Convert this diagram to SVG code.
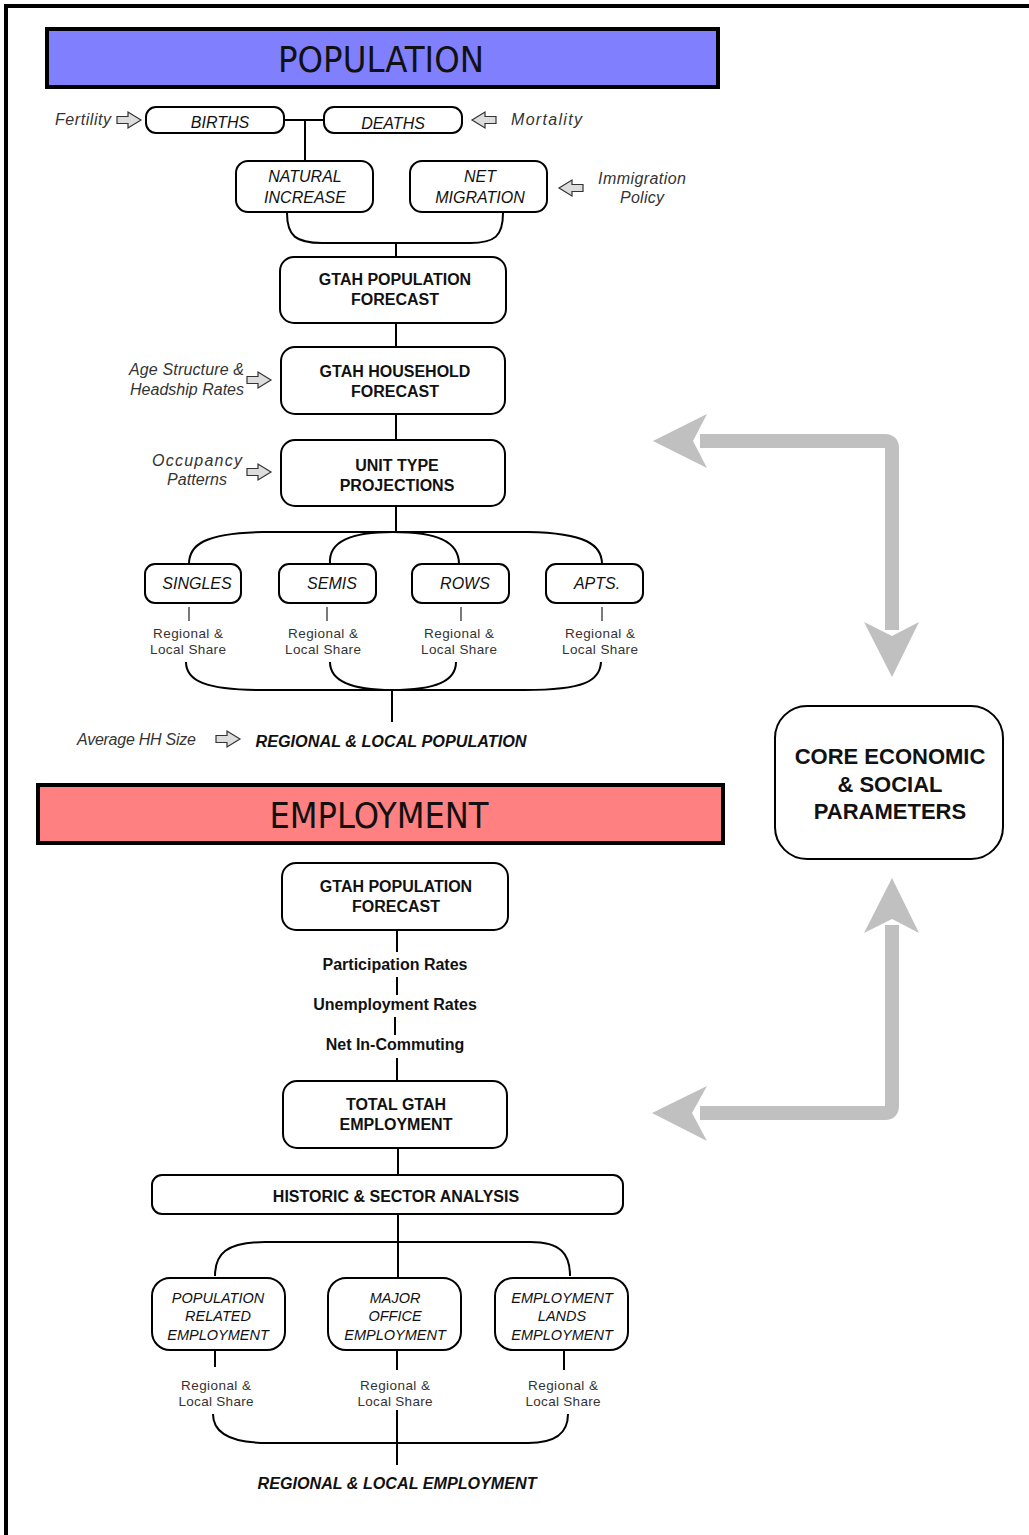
<svg xmlns="http://www.w3.org/2000/svg" xmlns:xlink="http://www.w3.org/1999/xlink" width="1029" height="1535" viewBox="0 0 1029 1535">
<style>
text{font-family:"Liberation Sans","DejaVu Sans",Arial,sans-serif;text-anchor:middle;fill:#111}
.hdr{font-family:"DejaVu Sans Condensed","DejaVu Sans",sans-serif;font-stretch:condensed;font-size:36px}
.nb{font-size:16px;font-weight:bold}
.ni{font-size:16px;font-style:italic}
.nis{font-size:14.5px;font-style:italic}
.lbl{font-size:16px;font-style:italic;fill:#333}
.rs{font-size:13.5px;fill:#333}
.out{font-size:16px;font-weight:bold;font-style:italic}
.core{font-size:22px;font-weight:bold}
.box{fill:#fff;stroke:#000;stroke-width:2}
.ln{fill:none;stroke:#000;stroke-width:2}
.tk{fill:none;stroke:#333;stroke-width:1.3}
.big{fill:none;stroke:#C0C0C0;stroke-width:14}
.bigh{fill:#C0C0C0}
</style>
<defs>
<path id="harr" d="M-12,-3.5 H-1 V-8 L12,0 L-1,8 V3.5 H-12 Z" fill="#ddd" stroke="#333" stroke-width="1.2"/>
</defs>
<rect width="1029" height="1535" fill="#fff"/>
<!-- page frame -->
<path d="M6,1535 V6 H1029" fill="none" stroke="#000" stroke-width="4"/>

<!-- headers -->
<g id="hdr-population">
<rect x="47" y="29" width="671" height="58" fill="#8080FF" stroke="#000" stroke-width="4"/>
<text class="hdr" x="381" y="72" textLength="206" lengthAdjust="spacingAndGlyphs">POPULATION</text>
</g>
<g id="hdr-employment">
<rect x="38" y="785" width="685" height="58" fill="#FF8080" stroke="#000" stroke-width="4"/>
<text class="hdr" x="379" y="828" textLength="219" lengthAdjust="spacingAndGlyphs">EMPLOYMENT</text>
</g>

<!-- connectors -->
<g id="connectors">
<path class="ln" d="M284,120 H324" stroke-width="3"/>
<path class="ln" d="M305,120 V161"/>
<path class="ln" d="M287,213 C287,236 296,243 322,243 H470 C495,243 503,236 503,213"/>
<path class="ln" d="M396,243 V257"/>
<path class="ln" d="M396,323 V347"/>
<path class="ln" d="M396,414 V440"/>
<path class="ln" d="M396,506 V532"/>
<path class="ln" d="M263,532 C204,533 189,545 189,564"/>
<path class="ln" d="M263,532 H528"/>
<path class="ln" d="M528,532 C586,533 602,545 602,564"/>
<path class="ln" d="M330,564 C328,541 352,532 393,532 C436,532 459,541 459,564"/>
<path class="tk" d="M189,607 V621 M327,607 V621 M461,607 V621 M602,607 V621"/>
<path class="ln" d="M186,662 C186,681 206,690 262,690 H525 C584,690 600,681 601,662"/>
<path class="ln" d="M330,662 C330,681 352,690 392,690 C436,690 456,681 456,662"/>
<path class="ln" d="M392,690 V722"/>
<path class="ln" d="M397,931 V952"/>
<path class="ln" d="M397,977 V995"/>
<path class="ln" d="M395,1017 V1035"/>
<path class="ln" d="M397,1058 V1081"/>
<path class="ln" d="M398,1148 V1175"/>
<path class="ln" d="M398,1214 V1278"/>
<path class="ln" d="M215,1276 C215,1254 226,1242 265,1242 H530 C561,1242 570,1254 570,1276"/>
<path class="ln" d="M215,1351 V1367 M397,1351 V1370 M564,1351 V1370"/>
<path class="ln" d="M213,1414 C213,1433 230,1443 268,1443 H528 C556,1443 568,1433 568,1414"/>
<path class="ln" d="M397,1410 V1465"/>
</g>

<!-- big gray feedback arrows -->
<g id="feedback-arrows">
<path class="big" d="M700,441 H885 Q892,441 892,448 V630"/>
<polygon class="bigh" points="653,441 707,414 693,441 707,468"/>
<polygon class="bigh" points="892,677 864,622 892,636 919,622"/>
<path class="big" d="M700,1113 H885 Q892,1113 892,1106 V925"/>
<polygon class="bigh" points="652,1113 707,1086 692,1113 707,1141"/>
<polygon class="bigh" points="892,878 864,933 892,919 919,933"/>
</g>

<!-- input labels with hollow arrows -->
<g id="in-fertility">
<text class="lbl" x="111" y="125" style="text-anchor:end" textLength="56">Fertility</text>
<use xlink:href="#harr" href="#harr" transform="translate(129,120)"/>
</g>
<g id="in-mortality">
<use xlink:href="#harr" href="#harr" transform="translate(484,120) scale(-1,1)"/>
<text class="lbl" x="511" y="125" style="text-anchor:start" textLength="71">Mortality</text>
</g>
<g id="in-immigration">
<use xlink:href="#harr" href="#harr" transform="translate(571,188) scale(-1,1)"/>
<text class="lbl" x="642" y="184" font-size="15" textLength="88">Immigration</text>
<text class="lbl" x="642" y="203" font-size="15" textLength="44">Policy</text>
</g>
<g id="in-age">
<text class="lbl" x="244" y="375" style="text-anchor:end" font-size="15" textLength="115">Age Structure &amp;</text>
<text class="lbl" x="244" y="395" style="text-anchor:end" font-size="15" textLength="114">Headship Rates</text>
<use xlink:href="#harr" href="#harr" transform="translate(259,380)"/>
</g>
<g id="in-occupancy">
<text class="lbl" x="197" y="466" font-size="15" textLength="90">Occupancy</text>
<text class="lbl" x="197" y="485" font-size="15" textLength="60">Patterns</text>
<use xlink:href="#harr" href="#harr" transform="translate(259,472)"/>
</g>
<g id="in-hhsize">
<text class="lbl" x="77" y="745" style="text-anchor:start" font-size="15" textLength="119">Average HH Size</text>
<use xlink:href="#harr" href="#harr" transform="translate(228,739)"/>
</g>

<!-- population nodes -->
<g id="n-births">
<rect class="box" x="146" y="107" width="138" height="26" rx="10"/>
<text class="ni" x="220" y="128" font-size="15">BIRTHS</text>
</g>
<g id="n-deaths">
<rect class="box" x="324" y="107" width="138" height="26" rx="10"/>
<text class="ni" x="393" y="129" font-size="15">DEATHS</text>
</g>
<g id="n-natural">
<rect class="box" x="236" y="161" width="137" height="51" rx="12"/>
<text class="ni" x="305" y="182">NATURAL</text>
<text class="ni" x="305" y="203">INCREASE</text>
</g>
<g id="n-netmig">
<rect class="box" x="410" y="161" width="137" height="51" rx="12"/>
<text class="ni" x="480" y="182">NET</text>
<text class="ni" x="480" y="203">MIGRATION</text>
</g>
<g id="n-gtah-pop">
<rect class="box" x="280" y="257" width="226" height="66" rx="14"/>
<text class="nb" x="395" y="285">GTAH POPULATION</text>
<text class="nb" x="395" y="305">FORECAST</text>
</g>
<g id="n-gtah-hh">
<rect class="box" x="281" y="347" width="224" height="67" rx="14"/>
<text class="nb" x="395" y="377">GTAH HOUSEHOLD</text>
<text class="nb" x="395" y="397">FORECAST</text>
</g>
<g id="n-unit">
<rect class="box" x="281" y="440" width="224" height="66" rx="14"/>
<text class="nb" x="397" y="471">UNIT TYPE</text>
<text class="nb" x="397" y="491">PROJECTIONS</text>
</g>
<g id="n-singles">
<rect class="box" x="145" y="564" width="96" height="39" rx="10"/>
<text class="ni" x="197" y="589">SINGLES</text>
</g>
<g id="n-semis">
<rect class="box" x="279" y="564" width="97" height="39" rx="10"/>
<text class="ni" x="332" y="589">SEMIS</text>
</g>
<g id="n-rows">
<rect class="box" x="412" y="564" width="97" height="39" rx="10"/>
<text class="ni" x="465" y="589">ROWS</text>
</g>
<g id="n-apts">
<rect class="box" x="546" y="564" width="97" height="39" rx="10"/>
<text class="ni" x="597" y="589">APTS.</text>
</g>
<g id="share-pop">
<text class="rs" x="188" y="638" textLength="70">Regional &amp;</text>
<text class="rs" x="188" y="654" textLength="76">Local Share</text>
<text class="rs" x="323" y="638" textLength="70">Regional &amp;</text>
<text class="rs" x="323" y="654" textLength="76">Local Share</text>
<text class="rs" x="459" y="638" textLength="70">Regional &amp;</text>
<text class="rs" x="459" y="654" textLength="76">Local Share</text>
<text class="rs" x="600" y="638" textLength="70">Regional &amp;</text>
<text class="rs" x="600" y="654" textLength="76">Local Share</text>
</g>
<g id="out-pop">
<text class="out" x="391" y="747" textLength="271" lengthAdjust="spacingAndGlyphs">REGIONAL &amp; LOCAL POPULATION</text>
</g>

<!-- core -->
<g id="n-core">
<rect class="box" x="775" y="706" width="228" height="153" rx="32"/>
<text class="core" x="890" y="764">CORE ECONOMIC</text>
<text class="core" x="890" y="792">&amp; SOCIAL</text>
<text class="core" x="890" y="819">PARAMETERS</text>
</g>

<!-- employment nodes -->
<g id="n-gtah-pop2">
<rect class="box" x="282" y="863" width="226" height="67" rx="14"/>
<text class="nb" x="396" y="892">GTAH POPULATION</text>
<text class="nb" x="396" y="912">FORECAST</text>
</g>
<g id="steps">
<text class="nb" x="395" y="970">Participation Rates</text>
<text class="nb" x="395" y="1010">Unemployment Rates</text>
<text class="nb" x="395" y="1050">Net In-Commuting</text>
</g>
<g id="n-total">
<rect class="box" x="283" y="1081" width="224" height="67" rx="14"/>
<text class="nb" x="396" y="1110">TOTAL GTAH</text>
<text class="nb" x="396" y="1130">EMPLOYMENT</text>
</g>
<g id="n-historic">
<rect class="box" x="152" y="1175" width="471" height="39" rx="10"/>
<text class="nb" x="396" y="1202">HISTORIC &amp; SECTOR ANALYSIS</text>
</g>
<g id="n-poprel">
<rect class="box" x="152" y="1278" width="133" height="72" rx="18"/>
<text class="nis" x="218" y="1303">POPULATION</text>
<text class="nis" x="218" y="1321">RELATED</text>
<text class="nis" x="218" y="1340">EMPLOYMENT</text>
</g>
<g id="n-office">
<rect class="box" x="328" y="1278" width="133" height="72" rx="18"/>
<text class="nis" x="395" y="1303">MAJOR</text>
<text class="nis" x="395" y="1321">OFFICE</text>
<text class="nis" x="395" y="1340">EMPLOYMENT</text>
</g>
<g id="n-lands">
<rect class="box" x="495" y="1278" width="133" height="72" rx="18"/>
<text class="nis" x="562" y="1303">EMPLOYMENT</text>
<text class="nis" x="562" y="1321">LANDS</text>
<text class="nis" x="562" y="1340">EMPLOYMENT</text>
</g>
<g id="share-emp">
<text class="rs" x="216" y="1390" textLength="70">Regional &amp;</text>
<text class="rs" x="216" y="1406" textLength="75">Local Share</text>
<text class="rs" x="395" y="1390" textLength="70">Regional &amp;</text>
<text class="rs" x="395" y="1406" textLength="75">Local Share</text>
<text class="rs" x="563" y="1390" textLength="70">Regional &amp;</text>
<text class="rs" x="563" y="1406" textLength="75">Local Share</text>
</g>
<g id="out-emp">
<text class="out" x="397" y="1489" textLength="279" lengthAdjust="spacingAndGlyphs">REGIONAL &amp; LOCAL EMPLOYMENT</text>
</g>
</svg>
